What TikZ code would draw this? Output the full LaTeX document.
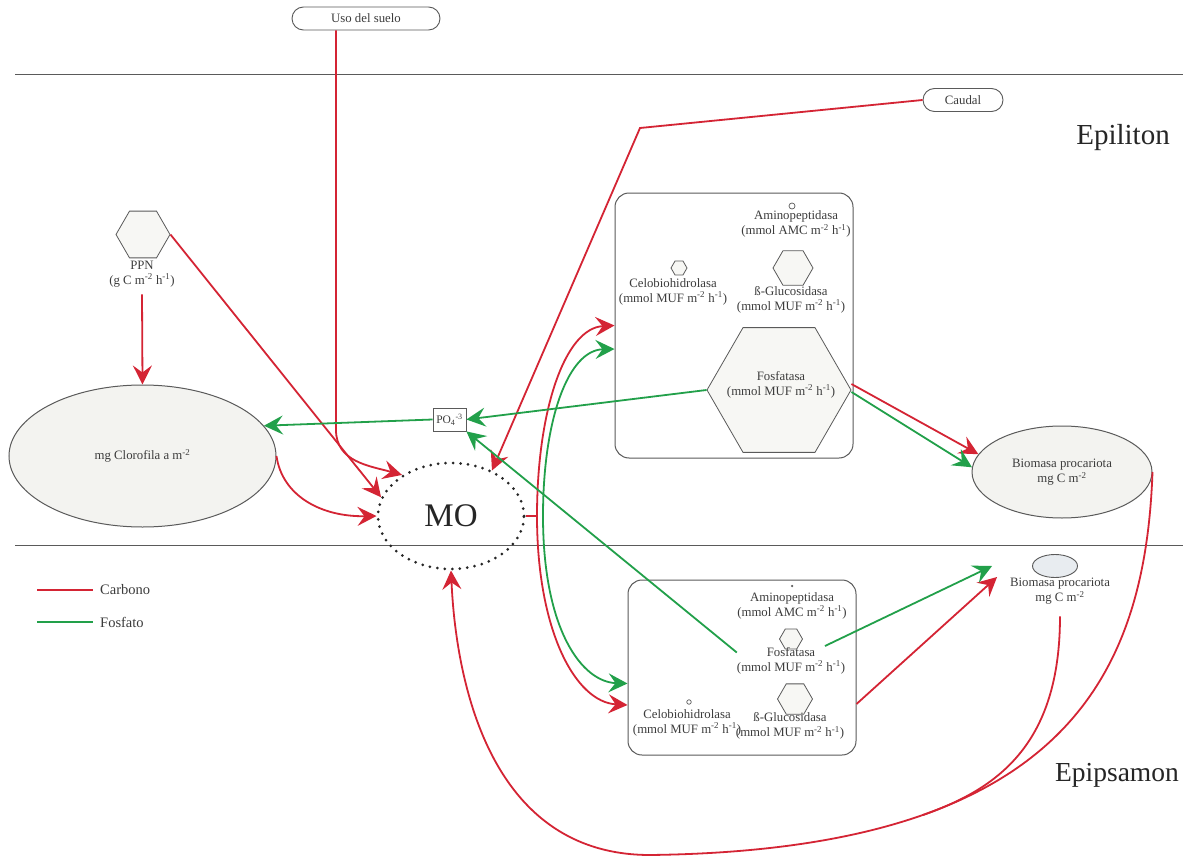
\documentclass[tikz,border=0pt]{standalone}
\usepackage{fontspec}
\setmainfont{Liberation Serif}
\usetikzlibrary{shapes.geometric,shapes.misc,arrows.meta}
\definecolor{cred}{RGB}{212,36,52}
\definecolor{cgreen}{RGB}{34,160,74}
\definecolor{txt}{RGB}{60,60,60}
\definecolor{edge}{RGB}{90,90,90}
\definecolor{fillg}{RGB}{243,243,240}
\definecolor{fillh}{RGB}{247,247,244}
\definecolor{fillb}{RGB}{232,236,240}
\begin{document}
\begin{tikzpicture}[x=1pt,y=-1pt,
  >={Stealth[length=19pt,width=19pt,inset=7pt]},
  lbl/.style={font=\fontsize{12.8}{15}\selectfont, text=txt, align=center, inner sep=0pt},
  hexa/.style={draw=edge, fill=fillh, regular polygon, regular polygon sides=6, inner sep=0pt, line width=0.8pt},
  pill/.style={draw=edge, rounded rectangle, line width=0.9pt, minimum height=23pt, inner sep=0pt, font=\fontsize{12.8}{15}\selectfont, text=txt},
  panel/.style={draw=edge, rounded corners=14pt, line width=1pt},
  oval/.style={ellipse, draw=edge, line width=1pt, inner sep=0pt},
  carb/.style={draw=cred, line width=1.8pt},
  fosf/.style={draw=cgreen, line width=1.8pt},
  sep/.style={draw=edge, line width=1pt},
  big/.style={font=\fontsize{29}{34}\selectfont, text=black!85, inner sep=0pt}
]
\useasboundingbox[fill=white] (0,0) rectangle (1189,856);

% separators
\draw[sep] (15,75) -- (1183,75);
\draw[sep] (15,545) -- (1183,545);

% top inputs
\node[pill, minimum width=148pt] (uso) at (366,18.5) {Uso del suelo\hspace{26pt}};
\node[pill, minimum width=80pt] (caudal) at (963,100) {Caudal};

\node[big] (epil) at (1123,138) {Epiliton};
\node[big, font=\fontsize{27.5}{34}\selectfont] (epip) at (1117,775) {Epipsamon};

% PPN and chlorophyll
\node[hexa, minimum size=54pt] (ppn) at (143,234.5) {};
\node[lbl] (ppnlab) at (142,274) {PPN\\(g C m\textsuperscript{-2} h\textsuperscript{-1})};
\node[oval, fill=fillg, minimum width=267pt, minimum height=142pt, lbl] (clor) at (142.5,456) {mg Clorofila a m\textsuperscript{-2}};

% PO4
\node[draw=edge, fill=white, line width=0.8pt, minimum width=33pt, minimum height=23pt, inner sep=0pt, font=\fontsize{11.5}{13}\selectfont, text=txt] (po4) at (449.5,419.5) {PO\textsubscript{4}\textsuperscript{-3}};

% MO
\node[ellipse, draw=black!85, line width=3pt, dash pattern=on 0pt off 7.5pt, line cap=round, minimum width=146pt, minimum height=106pt, inner sep=0pt, font=\fontsize{33}{36}\selectfont, text=black!85] (mo) at (451,516) {MO};

% upper panel
\node[panel, minimum width=238pt, minimum height=265pt] (boxU) at (734,325.5) {};
\node[draw=edge, circle, minimum size=6pt, inner sep=0pt, line width=0.7pt] (aU) at (792,206) {};
\node[lbl] (aUl) at (796,224) {Aminopeptidasa\\(mmol AMC m\textsuperscript{-2} h\textsuperscript{-1})};
\node[hexa, minimum size=16pt] (cU) at (679,268) {};
\node[lbl] (cUl) at (673,291.5) {Celobiohidrolasa\\(mmol MUF m\textsuperscript{-2} h\textsuperscript{-1})};
\node[hexa, minimum size=40pt] (gU) at (793,268) {};
\node[lbl] (gUl) at (791,299.5) {ß-Glucosidasa\\(mmol MUF m\textsuperscript{-2} h\textsuperscript{-1})};
\node[hexa, minimum size=144pt] (fU) at (779,390) {};
\node[lbl] (fUl) at (781,384.5) {Fosfatasa\\(mmol MUF m\textsuperscript{-2} h\textsuperscript{-1})};

% lower panel
\node[panel, minimum width=228pt, minimum height=175pt] (boxL) at (742,667.5) {};
\node[circle, fill=edge, minimum size=2.5pt, inner sep=0pt] (aL) at (792,586) {};
\node[lbl] (aLl) at (792,605.5) {Aminopeptidasa\\(mmol AMC m\textsuperscript{-2} h\textsuperscript{-1})};
\node[hexa, minimum size=23pt] (fL) at (791,639) {};
\node[lbl] (fLl) at (791,660.5) {Fosfatasa\\(mmol MUF m\textsuperscript{-2} h\textsuperscript{-1})};
\node[draw=edge, circle, minimum size=4.5pt, inner sep=0pt, line width=0.7pt] (cL) at (689,702) {};
\node[lbl] (cLl) at (687,722.5) {Celobiohidrolasa\\(mmol MUF m\textsuperscript{-2} h\textsuperscript{-1})};
\node[hexa, minimum size=35pt] (gL) at (795,699) {};
\node[lbl] (gLl) at (790,726) {ß-Glucosidasa\\(mmol MUF m\textsuperscript{-2} h\textsuperscript{-1})};

% biomass
\node[oval, fill=fillg, minimum width=180pt, minimum height=92pt, lbl] (bioU) at (1062,472) {Biomasa procariota\\mg C m\textsuperscript{-2}};
\node[oval, fill=fillb, line width=0.9pt, minimum width=45pt, minimum height=23pt] (bioL) at (1055,566) {};
\node[lbl] (bioLl) at (1060,591) {Biomasa procariota\\mg C m\textsuperscript{-2}};

% legend
\coordinate (lr1) at (37,590); \coordinate (lr2) at (93,590);
\coordinate (lg1) at (37,622); \coordinate (lg2) at (93,622);
\draw[carb] (lr1) -- (lr2);
\draw[fosf] (lg1) -- (lg2);
\node[lbl, font=\fontsize{14.5}{16}\selectfont, anchor=west] (legc) at (100,590) {Carbono};
\node[lbl, font=\fontsize{14.5}{16}\selectfont, anchor=west] (legf) at (100,622) {Fosfato};

% helper coordinates
\coordinate (cbend) at (640,128);
\coordinate (rmid) at (537,516);
\coordinate (merge) at (923,815);

% carbon connectors
\draw[carb,->] ([xshift=-30pt]uso.south) -- (336,430) .. controls (336,462) and (370,466) .. (mo.140);
\draw[carb,->] (ppn.east) -- (mo.165);
\draw[carb,->] ([yshift=-7pt]ppnlab.south) -- (clor.north);
\draw[carb,->] (clor.east) .. controls (282,495) and (320,517) .. (mo.west);
\draw[carb,->] (caudal.west) -- (cbend) -- (mo.48);
\draw[carb] (mo.east) -- (rmid);
\draw[carb,<->] ([yshift=-37.5pt]boxL.west) .. controls (575,702) and (537,630) .. (rmid) .. controls (537,410) and (565,328) .. (boxU.west);
\draw[carb,->] ([yshift=6pt]fU.east) -- (bioU.168);
\draw[carb,->] ([yshift=-36.5pt]boxL.east) -- ([xshift=-35pt,yshift=-11pt]bioL.west);
\draw[carb,->] (bioU.east) .. controls (1145,680) and (1060,850) .. (650,855) .. controls (480,855) and (455,660) .. (mo.south);
\draw[carb] ([yshift=-12pt]bioLl.south) .. controls (1060,745) and (997,789) .. (merge);

% phosphate connectors
\draw[fosf,<->] ([yshift=-16pt]boxL.west) .. controls (582,682) and (543,630) .. (543,516) .. controls (543,420) and (568,350) .. ([yshift=-23.5pt]boxU.west);
\draw[fosf,->] (fU.west) -- (po4.east);
\draw[fosf,->] (po4.west) -- (clor.14);
\draw[fosf,->] ([yshift=-2pt]fU.east) -- (bioU.177);
\draw[fosf,->] ([yshift=8pt]fLl.west) -- (po4.south east);
\draw[fosf,->] ([xshift=22pt,yshift=-7pt]fL.east) -- ([xshift=-40pt]bioL.west);
\end{tikzpicture}
\end{document}
